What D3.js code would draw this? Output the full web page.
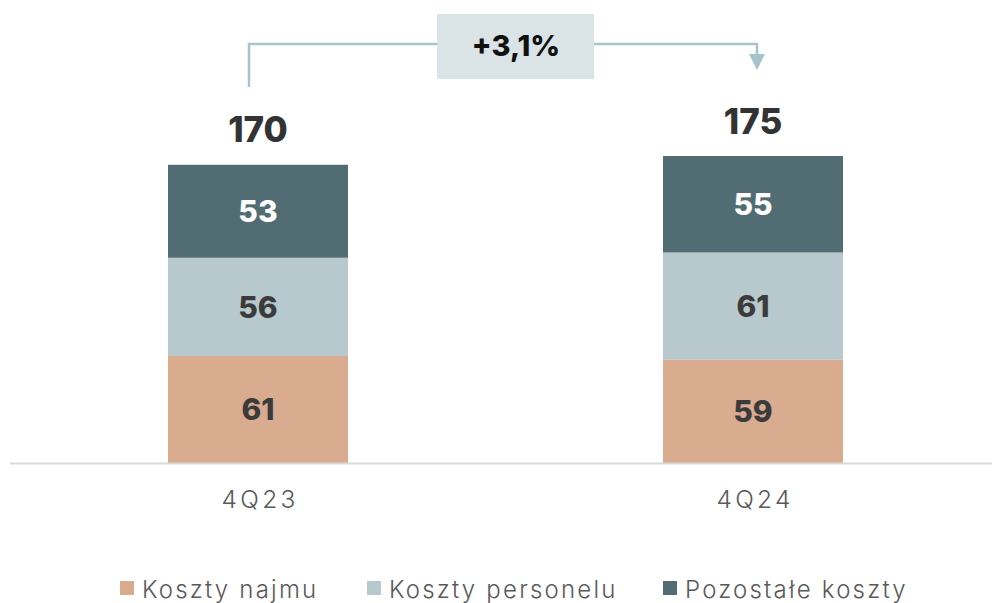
<!DOCTYPE html>
<html><head><meta charset="utf-8">
<script src="https://cdn.jsdelivr.net/npm/d3@7"></script>
<style>body{margin:0;background:#fff}</style>
</head><body>
<svg id="c" width="992" height="603"></svg>
<script>
const categories = ["4Q23", "4Q24"];
const seriesNames = ["Koszty najmu", "Koszty personelu", "Pozostałe koszty"];
const najmu = [61, 59];
const personelu = [56, 61];
const pozostale = [53, 55];
const totals = [170, 175];
const changeLabel = "+3,1%";

const colors = ["#d9ab8f", "#b7c9cd", "#516d73"];
const labelColors = ["#3b3b3b", "#3b3b3b", "#ffffff"];
const FONT = "Inter, 'Open Sans', sans-serif";

const svg = d3.select("#c");
const baseY = 463;
const x = d3.scalePoint().domain(categories).range([10.5, 1000.5]).padding(0.5);
const y = d3.scaleLinear().domain([0, 175]).range([baseY, 156]);
const barW = 180;

const seriesVals = [najmu, personelu, pozostale];
const rows = categories.map((c, i) => {
  const o = {cat: c};
  seriesNames.forEach((s, k) => o[s] = seriesVals[k][i]);
  return o;
});
const stack = d3.stack().keys(seriesNames)(rows);

stack.forEach((layer, k) => {
  const g = svg.append("g");
  g.selectAll("rect").data(layer).join("rect")
    .attr("x", d => x(d.data.cat) - barW / 2)
    .attr("width", barW)
    .attr("y", d => y(d[1]))
    .attr("height", d => y(d[0]) - y(d[1]))
    .attr("fill", colors[k]);
  g.selectAll("text").data(layer).join("text")
    .attr("x", d => x(d.data.cat))
    .attr("y", d => (y(d[0]) + y(d[1])) / 2)
    .attr("dy", "0.36em")
    .attr("text-anchor", "middle")
    .attr("font-family", FONT)
    .attr("font-weight", 800)
    .attr("font-size", 30)
    .attr("fill", labelColors[k])
    .text(d => d[1] - d[0]);
});

// axis baseline
const axis = d3.axisBottom(x).tickSize(0).tickPadding(28);
const ag = svg.append("g").attr("transform", `translate(0,${baseY})`).call(axis);
ag.select(".domain").attr("d", "M10,0.5H992").attr("stroke", "#d9d9d9").attr("stroke-width", 2);
ag.selectAll("text").attr("font-family", FONT).attr("font-weight", 300)
  .attr("font-size", 24.5).attr("letter-spacing", 3.3).attr("fill", "#595959")
  .attr("dx", 1.6);

// totals
svg.selectAll(".tot").data(categories).join("text")
  .attr("x", d => x(d))
  .attr("y", (d, i) => y(totals[i]) - 35)
  .attr("dy", "0.36em")
  .attr("text-anchor", "middle")
  .attr("font-family", FONT).attr("font-weight", 800).attr("font-size", 35)
  .attr("fill", "#333")
  .text((d, i) => totals[i]);

// growth bracket
const lineC = "#a6c4cb";
const x1 = x(categories[0]) - 9, x2 = x(categories[1]) + 4, topY = 44;
svg.append("path")
  .attr("d", `M${x1},87V${topY}H${x2}V56`)
  .attr("fill", "none").attr("stroke", lineC).attr("stroke-width", 2.5);
svg.append("path")
  .attr("d", `M${x2 - 8},54L${x2 + 8},54L${x2},70Z`)
  .attr("fill", lineC);
svg.append("rect").attr("x", 437).attr("y", 14).attr("width", 157).attr("height", 65)
  .attr("fill", "#dae4e6");
svg.append("text").attr("x", 516).attr("y", 46).attr("dy", "0.36em")
  .attr("text-anchor", "middle").attr("font-family", FONT).attr("font-weight", 800)
  .attr("font-size", 29).attr("fill", "#111").text(changeLabel);

// legend
const legX = [120, 367, 663];
const lg = svg.append("g");
seriesNames.forEach((s, k) => {
  lg.append("rect").attr("x", legX[k]).attr("y", 581).attr("width", 14).attr("height", 14)
    .attr("fill", colors[k]);
  lg.append("text").attr("x", legX[k] + 22).attr("y", 589).attr("dy", "0.36em")
    .attr("font-family", FONT).attr("font-weight", 300).attr("font-size", 24)
    .attr("letter-spacing", 2.2)
    .attr("fill", "#595959").text(s);
});
</script>
</body></html>
